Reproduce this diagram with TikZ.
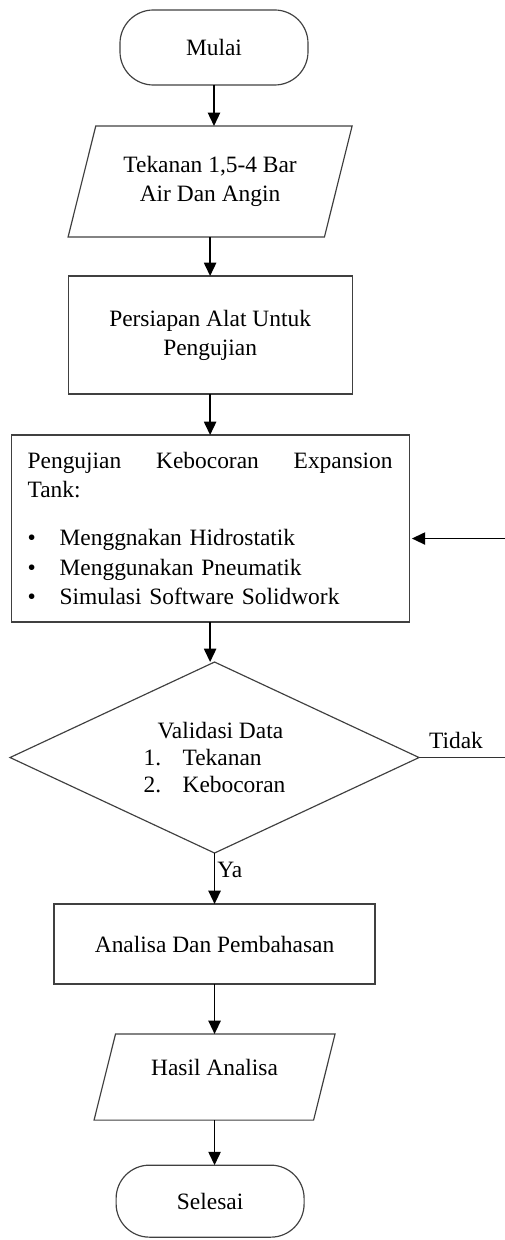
\documentclass[tikz,border=0pt]{standalone}
\usepackage{fontspec}
\setmainfont{Liberation Serif}
\usetikzlibrary{positioning,shapes.geometric,arrows.meta}

\tikzset{
  base/.style={draw=black!75, line width=0.6pt, align=center, inner sep=2pt, outer sep=0pt},
  terminal/.style={base, rectangle, rounded corners=0.6cm, minimum width=3.384cm, minimum height=1.35cm},
  inout/.style={base, trapezium, trapezium left angle=76, trapezium right angle=104,
    trapezium stretches body, inner ysep=0pt, minimum width=5.112cm},
  process/.style={base, rectangle, minimum width=5.112cm, minimum height=2.124cm},
  decision/.style={base, diamond, aspect=2.14, minimum width=7.362cm, minimum height=3.438cm, inner sep=0pt},
  flow/.style={-{Triangle[length=0.24cm,width=0.22cm]}, line width=0.9pt, black},
  link/.style={line width=0.6pt, draw=black!80},
}

\begin{document}
\begin{tikzpicture}[font=\fontsize{12}{14.8}\selectfont]

    \useasboundingbox (0,0) rectangle (9.072,-22.32);

    % Define nodes

    \node[terminal]                                    (start) at (3.852,-0.855) {Mulai}; %
    \node[inout, below=0.738cm of start, xshift=-0.07cm,
      text height=1.354cm, text depth=0.644cm]         (input) {Tekanan 1,5-4 Bar\\Air Dan Angin}; %
    \node[process, below=0.702cm of input]             (prep) {Persiapan Alat Untuk\\Pengujian}; %
    \node[process, below=0.738cm of prep, minimum width=7.164cm, minimum height=3.366cm,
      text width=6.57cm, align=left, inner xsep=0.297cm,
      font=\fontsize{12}{15}\selectfont]                (test) {Pengujian\hfill Kebocoran\hfill Expansion\\
      Tank:\\[9.6pt]
      \makebox[0.576cm][l]{\textbullet}Menggnakan Hidrostatik\\
      \makebox[0.576cm][l]{\textbullet}Menggunakan Pneumatik\\
      \makebox[0.576cm][l]{\textbullet}Simulasi Software Solidwork}; %

    % decision
    \node[decision, below=0.72cm of test, xshift=0.08cm, align=left,
      font=\fontsize{12}{14}\selectfont]                (valid) {\hspace*{0.25cm}Validasi Data\\
      \makebox[0.7cm][l]{1.}Tekanan\\
      \makebox[0.7cm][l]{2.}Kebocoran}; %
    \node[process, below=0.918cm of valid, minimum width=5.778cm, minimum height=1.44cm] (analysis) {Analisa Dan Pembahasan}; %
    \node[inout, below=0.9cm of analysis, minimum width=4.338cm,
      text height=0.75cm, text depth=0.8cm]            (output) {Hasil Analisa}; %
    \node[terminal, below=0.81cm of output, xshift=-0.08cm, minimum height=1.296cm] (finish) {Selesai}; %

    \coordinate[right=1.75cm of valid.east] (back);

    % Connect the nodes
    \draw[flow] (start.south) -- (start.south |- input.north);
    \draw[flow] (input.south) -- (input.south |- prep.north);
    \draw[flow] (prep.south) -- (prep.south |- test.north);
    \draw[flow] (test.south) -- (test.south |- valid.north);
    \draw[flow] (valid.south) -- node[right, pos=0.33, inner sep=1pt] {Ya} (valid.south |- analysis.north);
    \draw[flow] (analysis.south) -- (analysis.south |- output.north);
    \draw[flow] (output.south) -- (output.south |- finish.north);

    % loop back
    \draw[link] (valid.east) -- node[above, pos=0.38, inner sep=4pt, text=black] {Tidak} (back);
    \draw[flow, shorten >=0.05cm] (back) |- ([yshift=-0.18cm]test.east);

\end{tikzpicture}
\end{document}
